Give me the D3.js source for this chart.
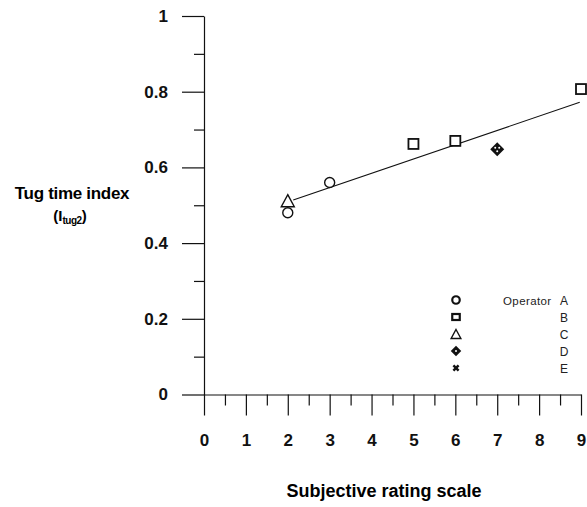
<!DOCTYPE html>
<html>
<head>
<meta charset="utf-8">
<script src="https://cdn.jsdelivr.net/npm/d3@7"></script>
<style>
  body { margin: 0; background: #fff; }
  svg { display: block; font-family: "Liberation Sans", Arial, sans-serif; }
  .axis path, .axis line { stroke: #111; stroke-width: 1.2; }
  .axis text { font-size: 17px; font-weight: bold; fill: #111; }
</style>
</head>
<body>
<svg></svg>
<script>
// data
const ratingTicks = [0, 1, 2, 3, 4, 5, 6, 7, 8, 9]
const ratingMinor = [0.5, 1.5, 2.5, 3.5, 4.5, 5.5, 6.5, 7.5, 8.5]
const indexTicks = [0, 0.2, 0.4, 0.6, 0.8, 1]
const indexMinor = [0.1, 0.3, 0.5, 0.7, 0.9]

const pointRating = [2, 2, 3, 5, 6, 7, 9]
const pointIndex = [0.48, 0.512, 0.56, 0.662, 0.67, 0.648, 0.807]
const pointOperator = ["A", "C", "A", "B", "B", "D", "B"]

const fitRating = [2.13, 8.97]
const fitIndex = [0.514, 0.772]

const operators = ["A", "B", "C", "D", "E"]

const width = 587
const height = 507

const svg = d3.select("svg")
    .attr("width", width)
    .attr("height", height)

const x = d3.scaleLinear().domain([0, 9]).range([204, 581])
const y = d3.scaleLinear().domain([0, 1]).range([394.5, 16])

// y axis, major + minor ticks
svg.append("g")
    .attr("class", "axis")
    .attr("transform", "translate(204,0)")
    .call(d3.axisLeft(y).tickValues(indexTicks).tickSize(22).tickSizeOuter(0).tickPadding(14)
        .tickFormat(d => d === 0 || d === 1 ? d : d3.format(".1f")(d)))

svg.append("g")
    .attr("class", "axis")
    .attr("transform", "translate(204,0)")
    .call(d3.axisLeft(y).tickValues(indexMinor).tickSize(10).tickFormat(""))
    .select(".domain").remove()

// x axis
svg.append("g")
    .attr("class", "axis")
    .attr("transform", "translate(0,394.5)")
    .call(d3.axisBottom(x).tickValues(ratingTicks).tickSize(21).tickSizeOuter(0).tickPadding(18))

svg.append("g")
    .attr("class", "axis")
    .attr("transform", "translate(0,394.5)")
    .call(d3.axisBottom(x).tickValues(ratingMinor).tickSize(11).tickFormat(""))
    .select(".domain").remove()

// axis titles
svg.append("text")
    .attr("x", 384)
    .attr("y", 497)
    .attr("text-anchor", "middle")
    .style("font-size", "18px")
    .style("font-weight", "bold")
    .text("Subjective rating scale")

svg.append("text")
    .attr("x", 72)
    .attr("y", 199)
    .attr("text-anchor", "middle")
    .style("font-size", "17px")
    .style("font-weight", "bold")
    .style("letter-spacing", "-0.3px")
    .text("Tug time index")

const sub = svg.append("text")
    .attr("x", 70)
    .attr("y", 221)
    .attr("text-anchor", "middle")
    .style("font-size", "15px")
    .style("font-weight", "bold")
sub.append("tspan").text("(I")
sub.append("tspan").attr("dy", 3).style("font-size", "10px").style("letter-spacing", "-0.5px").text("tug2")
sub.append("tspan").attr("dy", -3).text(")")

// fitted line
svg.append("path")
    .datum(d3.zip(fitRating, fitIndex))
    .attr("d", d3.line().x(d => x(d[0])).y(d => y(d[1])))
    .attr("fill", "none")
    .attr("stroke", "#111")
    .attr("stroke-width", 1.1)

// marker drawing
const drawMarker = function (g, op, s) {
    if (op === "A") {
        g.append("circle").attr("r", 5 * s)
            .attr("fill", "#fff").attr("stroke", "#111").attr("stroke-width", s < 1 ? 2.2 : 1.4)
    } else if (op === "B") {
        const w = 10 * s
        g.append("rect").attr("x", -w / 2).attr("y", -w / 2 * (s < 1 ? 0.8 : 1))
            .attr("width", w).attr("height", w * (s < 1 ? 0.8 : 1))
            .attr("fill", "#fff").attr("stroke", "#111").attr("stroke-width", s < 1 ? 2.2 : 1.8)
    } else if (op === "C") {
        const w = 6.5 * s
        g.append("path").attr("d", `M0,${-6 * s}L${w},${6 * s}L${-w},${6 * s}Z`)
            .attr("fill", "#fff").attr("stroke", "#111").attr("stroke-width", 1.4)
    } else if (op === "D") {
        const r = 7 * s
        g.append("path").attr("d", `M0,${-r}L${r},0L0,${r}L${-r},0Z`)
            .attr("fill", "#111")
        const dots = s < 1 ? [[0, 0]] : [[-2, -1.5], [2, -1.5], [0, 2]]
        g.selectAll("circle.dot").data(dots).enter().append("circle")
            .attr("cx", d => d[0]).attr("cy", d => d[1]).attr("r", 1)
            .attr("fill", "#fff")
    } else if (op === "E") {
        g.append("path").attr("d", d3.symbol(d3.symbolCross, 30)())
            .attr("transform", "rotate(45)")
            .attr("fill", "#111")
    }
}

pointOperator.forEach(function (op, i) {
    const g = svg.append("g")
        .attr("transform", `translate(${x(pointRating[i])},${y(pointIndex[i])})`)
    drawMarker(g, op, 1)
})

// legend
const legend = svg.append("g")
    .selectAll("g")
    .data(operators)
    .enter()
    .append("g")
    .attr("transform", (d, i) => `translate(0,${300 + i * 17})`)

legend.each(function (op) {
    const g = d3.select(this).append("g").attr("transform", "translate(456,0)")
    drawMarker(g, op, 0.75)
})

legend.append("text")
    .attr("x", 564)
    .attr("y", 4.5)
    .attr("text-anchor", "middle")
    .style("font-size", "12px")
    .style("fill", "#222")
    .text(d => d)

svg.append("text")
    .attr("x", 503)
    .attr("y", 304.5)
    .style("font-size", "11.5px")
    .style("letter-spacing", "0.4px")
    .style("fill", "#222")
    .text("Operator")
</script>
</body>
</html>
